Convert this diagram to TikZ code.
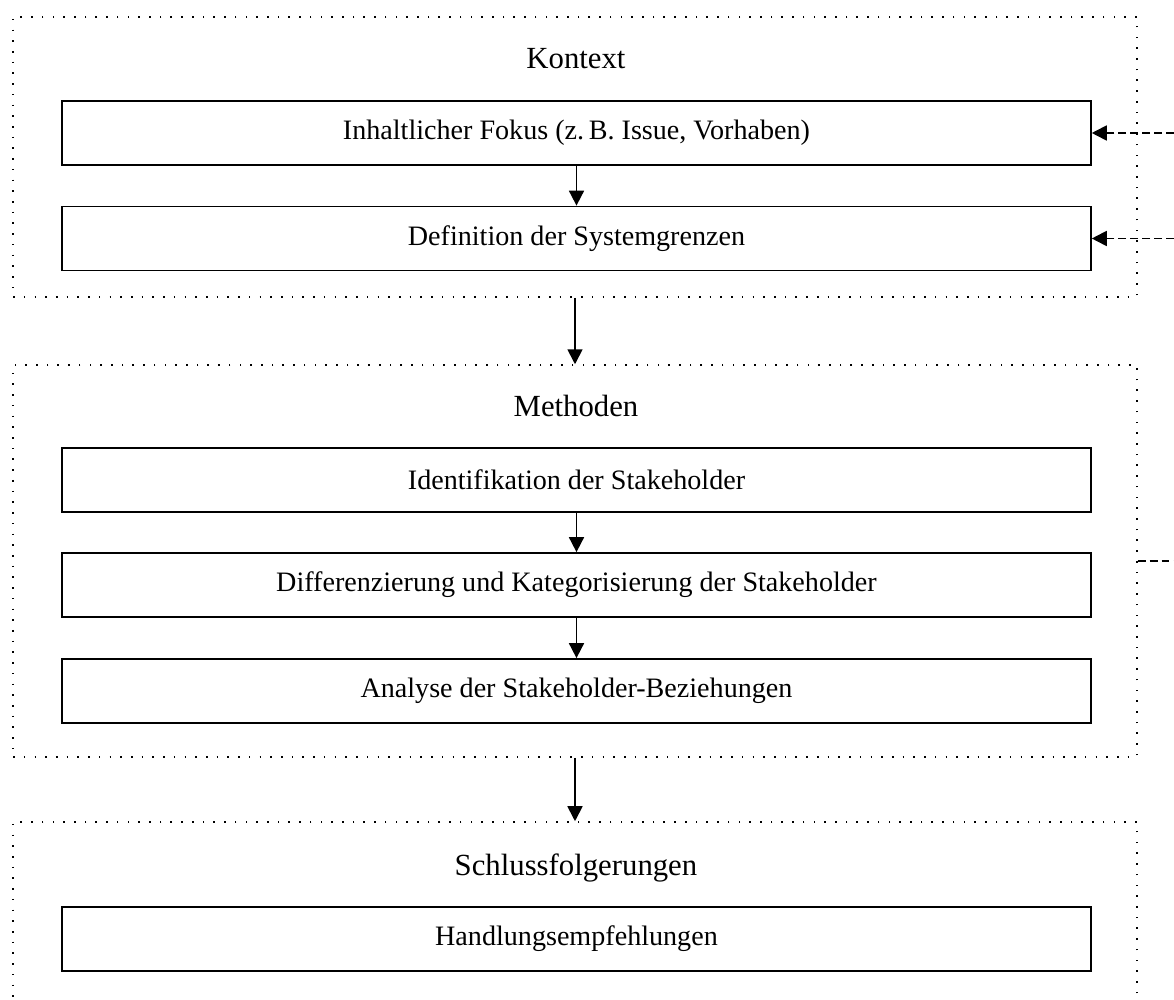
\documentclass[tikz,border=0pt]{standalone}
\usepackage{fontspec}
\setmainfont{Liberation Serif}
\usepackage{tikz}
\usetikzlibrary{arrows.meta}

\begin{document}
\begin{tikzpicture}[x=0.02cm, y=-0.02cm,
    frame/.style={draw, line width=0.9pt, dash pattern=on 0.9pt off 5.2pt, minimum width=22.48cm, inner sep=0pt},
    box/.style={draw, line width=1pt, minimum width=20.58cm, minimum height=1.28cm, inner sep=0pt, font=\fontsize{16}{19}\selectfont},
    title/.style={anchor=base, font=\fontsize{17.5}{21}\selectfont},
    arr/.style={-{Triangle[length=0.3cm, width=0.3cm]}, line width=1pt},
    fb/.style={line width=1pt, dash pattern=on 4.5pt off 2.3pt}]
            \useasboundingbox (0,0) rectangle (1174,1000);
            \clip (0,0) rectangle (1174,1000);

            % Rahmen
            \node[frame, minimum height=5.6cm] at (575, 157)   (kontext) {};
            \node[frame, minimum height=7.84cm] at (575, 561)   (methoden) {};
            \node[frame, minimum height=5.6cm] at (575, 962)   (schluss) {};

            \node[title] at (576, 69)   (tk) {Kontext};
            \node[title] at (576, 417)   (tm) {Methoden};
            \node[title] at (576, 875)   (ts) {Schlussfolgerungen};

            \node[box] at (576.5, 133)   (fokus) {Inhaltlicher Fokus (z.\,B. Issue, Vorhaben)};
            \node[box] at (576.5, 238.5)   (grenzen) {Definition der Systemgrenzen};
            \node[box] at (576.5, 480)   (ident) {Identifikation der Stakeholder};
            \node[box] at (576.5, 585)   (diff) {Differenzierung und Kategorisierung der Stakeholder};
            \node[box] at (576.5, 691)   (analyse) {Analyse der Stakeholder-Beziehungen};
            \node[box] at (576.5, 939)   (handlung) {Handlungsempfehlungen};

            \coordinate (fb1) at (1174, 133);
            \coordinate (fb2) at (1174, 238.5);
            \coordinate (fb3) at (1174, 561);

            \draw [arr] (fokus) -- (grenzen);
            \draw [arr] (ident) -- (diff);
            \draw [arr] (diff) -- (analyse);
            \draw [arr] (kontext.south) -- (methoden.north);
            \draw [arr] (methoden.south) -- (schluss.north);

            \draw [fb, arr] (fb1) -- (fokus.east);
            \draw [fb, arr] (fb2) -- (grenzen.east);
            \draw [fb] (methoden.east) -- (fb3);
        \end{tikzpicture}
\end{document}
